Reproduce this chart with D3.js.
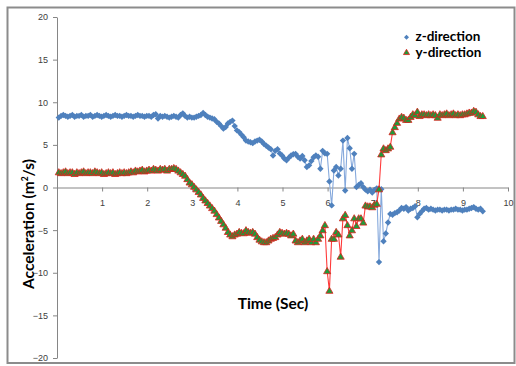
<!DOCTYPE html>
<html>
<head>
<meta charset="utf-8">
<script src="https://cdn.jsdelivr.net/npm/d3@7"></script>
<style>
  body { margin: 0; background: #fff; }
  svg { display: block; font-family: Lato, "Liberation Sans", sans-serif; }
</style>
</head>
<body>
<svg id="chart"></svg>
<script>
// sampling of both series (seconds)
var t0 = 0.04;
var dt = 0.05;

// acceleration along z, one row per half second
var zDirection = [
  8.2,8.4,8.5,8.4,8.3,8.4,8.5,8.3,8.4,8.4,
  8.5,8.3,8.4,8.4,8.5,8.3,8.4,8.5,8.4,8.3,
  8.4,8.5,8.4,8.3,8.4,8.5,8.4,8.4,8.3,8.4,
  8.5,8.4,8.4,8.3,8.4,8.5,8.4,8.4,8.3,8.4,
  8.4,8.3,8.5,8.6,8.1,8.4,8.3,8.4,8.3,8.2,
  8.3,8.4,8.3,8.2,8.5,8.7,8.4,8.2,8.3,8.2,
  8.2,8.3,8.4,8.5,8.75,8.5,8.3,8.2,8.1,8.0,
  7.7,7.5,7.2,6.9,7.1,7.5,7.7,7.85,7.2,6.7,
  6.5,6.2,5.9,5.5,5.4,5.3,5.2,5.4,5.5,5.6,
  5.4,5.1,4.9,4.7,4.5,3.75,4.3,4.5,4.0,3.75,
  3.4,3.2,3.5,3.75,3.9,3.95,3.6,3.4,3.7,3.2,
  2.4,2.6,3.1,3.55,3.75,3.6,2.2,4.3,4.0,3.95,
  0.7,-2.1,2.0,2.4,1.4,2.2,5.5,-0.35,5.8,4.6,
  2.2,3.95,0.05,0.3,0.5,0.05,-0.25,-0.45,-0.25,-0.6,
  -0.3,-0.1,-8.75,-0.2,-6.3,-5.4,-4.1,-3.1,-3.2,-3.0,
  -2.9,-2.7,-2.4,-2.5,-2.3,-2.7,-2.5,-2.4,-2.2,-3.5,
  -3.1,-2.8,-2.5,-2.4,-2.6,-2.5,-2.6,-2.7,-2.6,-2.6,
  -2.7,-2.6,-2.6,-2.7,-2.6,-2.6,-2.5,-2.6,-2.6,-2.7,
  -2.6,-2.6,-2.5,-2.4,-2.3,-2.5,-2.6,-2.5,-2.8
];

// acceleration along y
var yDirection = [
  1.8,1.7,1.8,1.9,1.7,1.8,1.8,1.6,1.8,1.7,
  1.8,1.9,1.7,1.8,1.8,1.7,1.9,1.8,1.7,1.8,
  1.6,1.7,1.8,1.7,1.8,1.6,1.7,1.8,1.7,1.8,
  1.7,1.8,1.9,1.8,2.0,1.9,2.0,2.1,1.9,2.0,
  2.1,2.0,2.2,2.1,2.0,2.2,2.1,2.2,2.0,2.2,
  2.2,2.3,2.2,2.0,1.8,1.6,1.4,1.0,0.6,0.4,
  0.1,-0.2,-0.5,-0.8,-1.2,-1.5,-1.8,-2.1,-2.4,-2.7,
  -3.1,-3.5,-3.9,-4.3,-4.7,-5.2,-5.5,-5.7,-5.5,-5.4,
  -5.2,-5.3,-5.35,-5.0,-5.2,-5.3,-5.2,-5.4,-5.8,-6.1,
  -6.3,-6.4,-6.4,-6.2,-6.0,-5.9,-5.8,-5.5,-5.2,-5.3,
  -5.4,-5.3,-5.4,-5.6,-5.4,-6.2,-6.4,-6.2,-6.0,-6.4,
  -6.2,-6.0,-6.4,-6.0,-6.4,-6.0,-5.6,-5.0,-4.4,-9.8,
  -12.1,-6.0,-6.0,-5.2,-5.5,-8.1,-3.6,-3.2,-4.4,-5.6,
  -5.0,-3.6,-4.5,-3.6,-3.6,-4.1,-2.1,-2.2,-2.2,-2.3,
  -2.0,-1.9,-0.2,3.9,4.6,4.4,4.6,4.8,6.5,7.1,
  7.6,8.1,8.3,8.2,7.95,7.95,8.3,8.6,8.5,8.9,
  8.4,8.6,8.6,8.5,8.6,8.5,8.6,8.5,8.2,8.6,
  8.5,8.6,8.7,8.5,8.6,8.7,8.5,8.6,8.5,8.6,
  8.6,8.7,8.8,8.8,9.0,8.9,8.6,8.4,8.4
];

var xTicks = [1,2,3,4,5,6,7,8,9,10];
var yTicks = [-20,-15,-10,-5,0,5,10,15,20];
var seriesNames = ["z-direction", "y-direction"];

var width = 516, height = 366;

var svg = d3.select("#chart")
  .attr("width", width)
  .attr("height", height);

// outer chart frame
svg.append("rect")
  .attr("x", 7.5).attr("y", 7.5)
  .attr("width", 507).attr("height", 355.5)
  .attr("fill", "#fff")
  .attr("stroke", "#8c8c8c")
  .attr("stroke-width", 2);

var x = d3.scaleLinear().domain([0, 10]).range([57, 508]);
var y = d3.scaleLinear().domain([-20, 20]).range([358, 17]);

function toPoints(values) {
  return values.map(function (v, i) {
    return { t: t0 + i * dt, v: v };
  });
}
var zData = toPoints(zDirection);
var yData = toPoints(yDirection);

// axes
var yAxis = svg.append("g")
  .attr("transform", "translate(" + x(0) + ",0)")
  .call(d3.axisLeft(y).tickValues(yTicks).tickSize(4).tickSizeOuter(0).tickPadding(5));

var xAxis = svg.append("g")
  .attr("transform", "translate(0," + y(0) + ")")
  .call(d3.axisBottom(x).tickValues(xTicks).tickSize(4).tickSizeOuter(0).tickPadding(8));

[xAxis, yAxis].forEach(function (g) {
  g.select(".domain").attr("stroke", "#868686");
  g.selectAll(".tick line").attr("stroke", "#868686");
  g.selectAll(".tick text")
    .attr("fill", "#404040")
    .style("font-size", "9px");
});

var line = d3.line()
  .x(function (d) { return x(d.t); })
  .y(function (d) { return y(d.v); });

var diamond = d3.symbol().type(d3.symbolDiamond2).size(26);
var triangle = d3.symbol().type(d3.symbolTriangle).size(22);

// z-direction
svg.append("path")
  .datum(zData)
  .attr("fill", "none")
  .attr("stroke", "#86a9dc")
  .attr("stroke-width", 1.1)
  .attr("d", line);

svg.selectAll(".zpt")
  .data(zData)
  .enter()
  .append("path")
  .attr("class", "zpt")
  .attr("transform", function (d) { return "translate(" + x(d.t) + "," + y(d.v) + ")"; })
  .attr("d", diamond)
  .attr("fill", "#4f81bd");

// y-direction
svg.append("path")
  .datum(yData)
  .attr("fill", "none")
  .attr("stroke", "#ff3b3b")
  .attr("stroke-width", 1.1)
  .attr("d", line);

svg.selectAll(".ypt")
  .data(yData)
  .enter()
  .append("path")
  .attr("class", "ypt")
  .attr("transform", function (d) { return "translate(" + x(d.t) + "," + (y(d.v) + 0.6) + ")"; })
  .attr("d", triangle)
  .attr("fill", "#1f9a3a")
  .attr("stroke", "#e0201c")
  .attr("stroke-width", 0.8);

// axis titles
svg.append("text")
  .attr("x", 273)
  .attr("y", 308.5)
  .attr("text-anchor", "middle")
  .style("font-size", "15.5px")
  .style("font-weight", "bold")
  .attr("fill", "#000")
  .text("Time (Sec)");

svg.append("text")
  .attr("transform", "translate(34,224) rotate(-90)")
  .attr("text-anchor", "middle")
  .style("font-size", "15.5px")
  .style("font-weight", "bold")
  .attr("fill", "#000")
  .html("Acceleration (m<tspan dy='-6' style='font-size:8.5px'>2</tspan><tspan dy='6'>/s)</tspan>");

// legend
var legend = svg.selectAll(".legend")
  .data(seriesNames)
  .enter()
  .append("g")
  .attr("class", "legend")
  .attr("transform", function (d, i) {
    return "translate(406.5," + (37.3 + i * 15.5) + ")";
  });

var legendDiamond = d3.symbol().type(d3.symbolDiamond2).size(16);
var legendTriangle = d3.symbol().type(d3.symbolTriangle).size(16);

legend.append("path")
  .attr("d", function (d, i) { return i === 0 ? legendDiamond() : legendTriangle(); })
  .attr("fill", function (d, i) { return i === 0 ? "#4f81bd" : "#1f9a3a"; })
  .attr("stroke", function (d, i) { return i === 0 ? "none" : "#e0201c"; })
  .attr("stroke-width", 0.8);

legend.append("text")
  .attr("x", 9)
  .attr("y", 4)
  .style("font-size", "13.5px")
  .style("font-weight", "bold")
  .attr("fill", "#000")
  .text(function (d) { return d; });
</script>
</body>
</html>
